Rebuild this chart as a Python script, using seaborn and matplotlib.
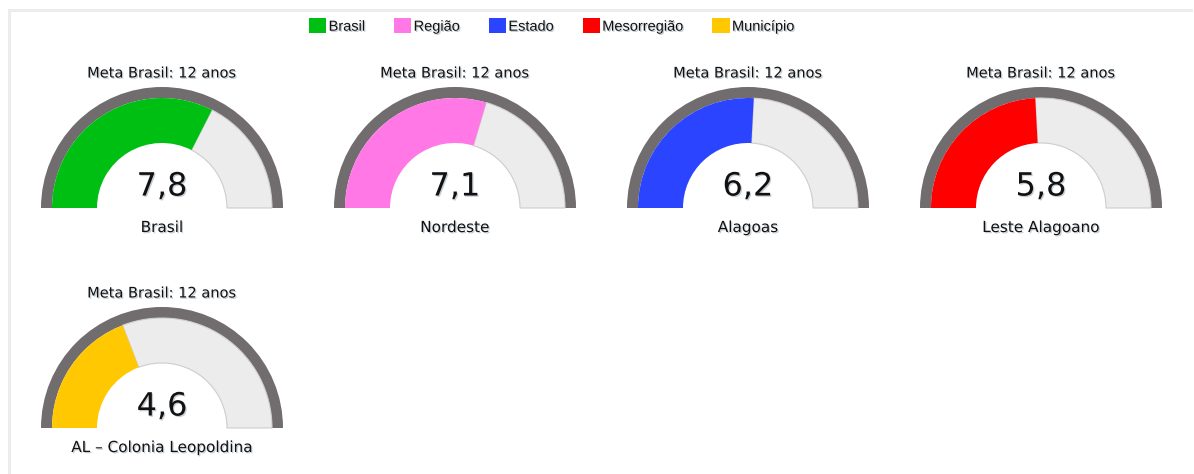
import matplotlib
matplotlib.use("Agg")
import matplotlib.pyplot as plt
import matplotlib.patheffects as pe
from matplotlib.patches import Wedge, Patch, Rectangle
import seaborn as sns

# dados do gráfico
nomes = ["Brasil", "Nordeste", "Alagoas", "Leste Alagoano", "AL – Colonia Leopoldina"]
valores = [7.8, 7.1, 6.2, 5.8, 4.6]
meta_brasil = 12
niveis = ["Brasil", "Região", "Estado", "Mesorregião", "Município"]
cores = ["#00bf13", "#ff78e6", "#2b44ff", "#ff0000", "#ffc800"]

sns.set_theme(style="white")
plt.rcParams["font.family"] = ["DejaVu Sans"]

W, H = 1194, 474
fig = plt.figure(figsize=(W / 100, H / 100), dpi=100)
ax = fig.add_axes([0, 0, 1, 1])
ax.set_xlim(0, W)
ax.set_ylim(0, H)
ax.set_aspect("equal")
ax.axis("off")

# moldura cinza clara (topo e esquerda)
ax.add_patch(Rectangle((8, H - 12), 1185, 3, color="#ececec", lw=0))
ax.add_patch(Rectangle((8, 0), 3, H - 9, color="#ececec", lw=0))

sombra = [pe.SimplePatchShadow(offset=(0.9, -0.9), shadow_rgbFace="#7f90a0", alpha=0.45), pe.Normal()]

# layout dos velocímetros
x0, dx = 162, 293
base0, dy = 208, 220
r_ext, r_aro, r_int = 121, 110, 65

for i, (nome, v) in enumerate(zip(nomes, valores)):
    col, lin = i % 4, i // 4
    cx = x0 + col * dx
    cy = H - (base0 + lin * dy)
    ang = 180 - v / meta_brasil * 180

    ax.add_patch(Wedge((cx, cy), r_ext, 0, 180, width=r_ext - r_aro, color="#716c6e", lw=0))
    ax.add_patch(Wedge((cx, cy), r_aro, 0, ang, width=r_aro - r_int,
                       facecolor="#ececec", edgecolor="#cdcdcd", lw=0.8))
    ax.add_patch(Wedge((cx, cy), r_aro, ang, 180, width=r_aro - r_int,
                       facecolor=cores[i], edgecolor="none", lw=0))

    ax.text(cx, cy + 135, f"Meta Brasil: {meta_brasil} anos", ha="center", va="center",
            fontsize=10.5, color="#111111", path_effects=sombra)
    ax.text(cx, cy + 21, f"{v:.1f}".replace(".", ","), ha="center", va="center",
            fontsize=23, color="#111111", path_effects=sombra)
    ax.text(cx, cy - 19.5, nome, ha="center", va="center",
            fontsize=11, color="#111111", path_effects=sombra)

handles = [Patch(facecolor=c, edgecolor="none", label=l) for c, l in zip(cores, niveis)]
leg = ax.legend(handles=handles, loc="center", bbox_to_anchor=(552 / W, 1 - 26 / H), ncol=5,
                frameon=False, handlelength=1.2, handleheight=1.2, handletextpad=0.15,
                columnspacing=1.95, prop={"family": "Liberation Sans", "size": 10.5})
for t in leg.get_texts():
    t.set_path_effects(sombra)
    t.set_color("#111111")

fig.savefig("out.png", dpi=100)
